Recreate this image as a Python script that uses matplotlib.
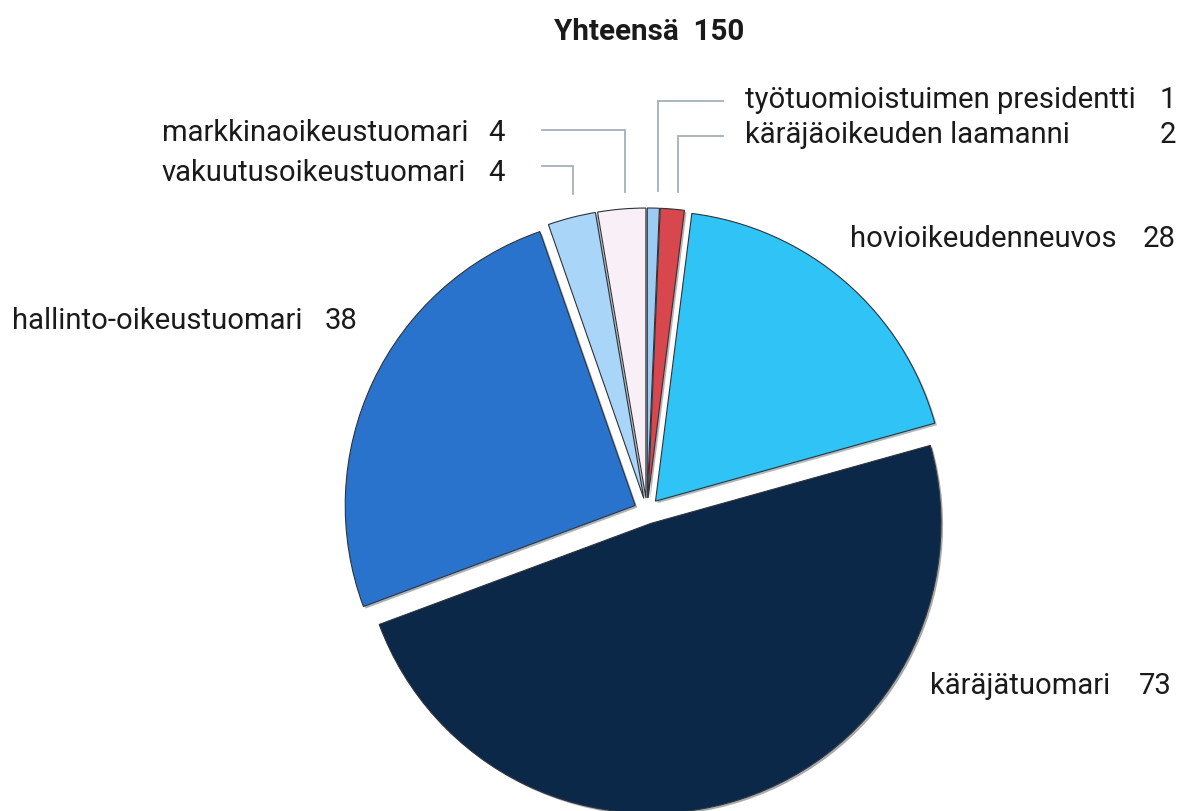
import matplotlib
matplotlib.use('Agg')
import matplotlib.pyplot as plt
from matplotlib import patheffects as pe

W, H = 1186, 812

# ---- data (clockwise from 12 o'clock) ----
categories = ['työtuomioistuimen presidentti', 'käräjäoikeuden laamanni',
              'hovioikeudenneuvos', 'käräjätuomari', 'hallinto-oikeustuomari',
              'vakuutusoikeustuomari', 'markkinaoikeustuomari']
values = [1, 2, 28, 73, 38, 4, 4]
title_text = 'Yhteensä  150'

# ---- style ----
colors = ['#9ECBF2', '#D8464E', '#30C3F5', '#0C2848', '#2A73CC', '#A9D5F8', '#F8F0F6']
FONT = 'Roboto'
R = 290            # pie radius in pixels
GAP = 13           # explode offset in pixels (pie uses data units)

fig = plt.figure(figsize=(W / 100, H / 100), dpi=100)
ax = fig.add_axes([0, 0, 1, 1])

wedges, _ = ax.pie(values, colors=colors, startangle=90, counterclock=False,
                   explode=[GAP] * len(values), center=(647, H - 512), radius=R,
                   wedgeprops=dict(edgecolor='#2e343b', linewidth=0.8))
for w in wedges:
    w.set_path_effects([pe.SimplePatchShadow(offset=(1.5, -1.5), alpha=0.35), pe.Normal()])

ax.set_xlim(0, W)
ax.set_ylim(0, H)
ax.set_aspect('auto')
ax.axis('off')

# ---- fit font size to reference text width ----
fig.canvas.draw()
rend = fig.canvas.get_renderer()
probe = ax.text(0, 0, 'hallinto-oikeustuomari', fontsize=20, family=FONT)
fs = 20 * 290 / probe.get_window_extent(rend).width
probe.remove()
probe = ax.text(0, 0, title_text, fontsize=20, family=FONT, fontweight='bold')
fs_title = 20 * 190 / probe.get_window_extent(rend).width
probe.remove()

ax.text(649, H - 40, title_text, fontsize=fs_title, family=FONT, fontweight='bold',
        ha='center', va='baseline', color='#1a1a1a')

# label layout: (name_x, baseline_y, number_right_x) in pixel coords
layout = {
    'työtuomioistuimen presidentti': (745, 108, 1176),
    'käräjäoikeuden laamanni': (745, 143, 1176),
    'hovioikeudenneuvos': (850, 247, 1176),
    'käräjätuomari': (930, 694, 1172),
    'hallinto-oikeustuomari': (12, 329, 358),
    'vakuutusoikeustuomari': (162, 181, 505),
    'markkinaoikeustuomari': (162, 141, 505),
}
for name, val in zip(categories, values):
    x, yb, xr = layout[name]
    ax.text(x, H - yb, name, fontsize=fs, family=FONT, ha='left', va='baseline', color='#1a1a1a')
    ax.text(xr, H - yb, str(val), fontsize=fs, family=FONT, ha='right', va='baseline', color='#1a1a1a')

# leader lines (pixel coords)
leaders = [
    [(723, 102), (658, 102), (658, 192)],
    [(723, 137), (678, 137), (678, 193)],
    [(542, 131), (625, 131), (625, 193)],
    [(542, 167), (573, 167), (573, 195)],
]
for pts in leaders:
    xs = [p[0] for p in pts]
    ys = [H - p[1] for p in pts]
    ax.plot(xs, ys, color='#A3B1BA', lw=1.3, solid_joinstyle='miter')

fig.savefig('out.png', dpi=100, facecolor='white')
